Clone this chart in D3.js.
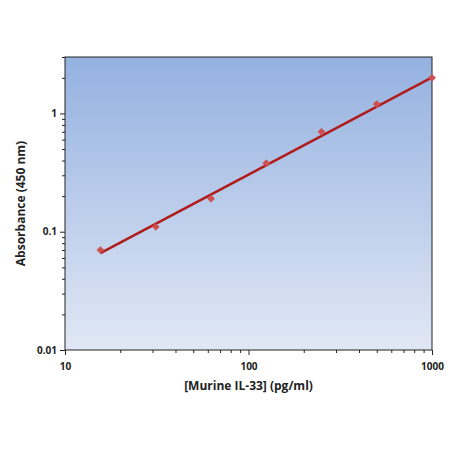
<!DOCTYPE html>
<html><head><meta charset="utf-8">
<script src="https://cdn.jsdelivr.net/npm/d3@7"></script>
<style>body{margin:0;background:#fff}</style>
</head><body><div id="chart"></div>
<script>
var conc = [15.6, 31.25, 62.5, 125, 250, 500, 1000];
var absorb = [0.07, 0.11, 0.19, 0.38, 0.7, 1.2, 2.0];
var fitLine = [[15.6, 0.066], [1000, 2.02]];
var xTicks = [10, 100, 1000];
var yTicks = [0.01, 0.1, 1];

var margin = {top: 57, right: 18, bottom: 100, left: 65},
    width = 450 - margin.left - margin.right,
    height = 450 - margin.top - margin.bottom;

var svg = d3.select("#chart").append("svg")
    .attr("width", 450).attr("height", 450)
  .append("g")
    .attr("transform", "translate(" + margin.left + "," + margin.top + ")");

var grad = svg.append("defs").append("linearGradient")
    .attr("id", "bg").attr("x1", 0).attr("y1", 0).attr("x2", 0).attr("y2", 1);
grad.append("stop").attr("offset", "0%").attr("stop-color", "#94b1e0");
grad.append("stop").attr("offset", "100%").attr("stop-color", "#e1e8f5");

var x = d3.scaleLog().domain([10, 1000]).range([0, width]);
var y = d3.scaleLog().domain([0.01, 3]).range([height, 0]);

svg.append("rect").attr("width", width).attr("height", height)
  .attr("fill", "url(#bg)").attr("stroke", "#222").attr("stroke-width", 1);

function minors(lo, hi) {
  var out = [];
  for (var d = lo; d < hi; d *= 10)
    for (var k = 2; k <= 9; k++) if (d * k <= hi) out.push(d * k);
  return out;
}

var xa = svg.append("g").attr("transform", "translate(0," + height + ")");
xa.call(d3.axisBottom(x).tickValues(xTicks).tickFormat(d3.format("d")).tickSize(5));
xa.append("g").call(d3.axisBottom(x).tickValues(minors(10, 1000)).tickFormat("").tickSize(3));
var ya = svg.append("g");
ya.call(d3.axisLeft(y).tickValues(yTicks).tickFormat(function(d){ return d >= 1 ? "1" : String(d); }).tickSize(5));
ya.append("g").call(d3.axisLeft(y).tickValues(minors(0.01, 3)).tickFormat("").tickSize(3));
svg.selectAll(".domain").remove();
svg.selectAll(".tick line").attr("stroke", "#222");
svg.selectAll(".tick text").style("font-family", "Open Sans, sans-serif")
  .style("font-size", "10px").style("font-weight", "bold").attr("fill", "#222");
xa.selectAll(".tick text").attr("dy", "1.2em");

svg.append("path").datum(fitLine)
  .attr("d", d3.line().x(function(d){ return x(d[0]); }).y(function(d){ return y(d[1]); }))
  .attr("stroke", "#b01c1c").attr("stroke-width", 2.5).attr("fill", "none");

svg.selectAll("pt").data(conc).enter().append("path")
  .attr("d", d3.symbol().type(d3.symbolSquare).size(30))
  .attr("transform", function(d, i){ return "translate(" + x(d) + "," + y(absorb[i]) + ") rotate(45)"; })
  .attr("fill", "#cd4f4f");

svg.append("text").attr("x", width / 2).attr("y", height + 40)
  .attr("text-anchor", "middle").style("font-family", "Open Sans, sans-serif")
  .style("font-size", "12px").style("font-weight", "bold").attr("fill", "#222")
  .text("[Murine IL-33] (pg/ml)");
svg.append("text").attr("transform", "rotate(-90)")
  .attr("x", -height / 2).attr("y", -40)
  .attr("text-anchor", "middle").style("font-family", "Open Sans, sans-serif")
  .style("font-size", "12px").style("font-weight", "bold").attr("fill", "#222")
  .text("Absorbance (450 nm)");
</script></body></html>
